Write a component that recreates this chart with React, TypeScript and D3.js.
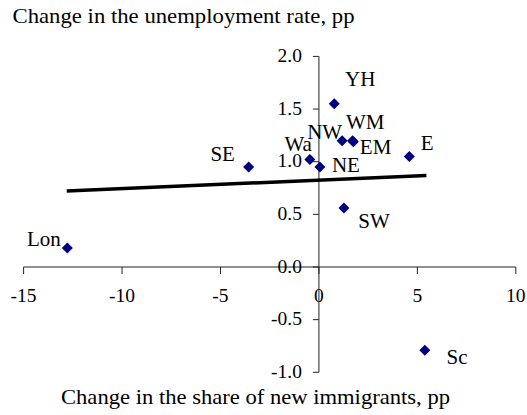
import React, { useRef, useEffect } from 'react';
import * as d3 from 'd3';

// regions and their changes (pp)
const regions = ['YH', 'NW', 'WM', 'EM', 'Wa', 'NE', 'SW', 'Sc', 'E', 'SE', 'Lon'];
const immigrantShareChange = [0.78, 1.18, 1.71, 1.75, -0.46, 0.05, 1.27, 5.38, 4.59, -3.57, -12.78];
const unemploymentChange = [1.55, 1.2, 1.2, 1.19, 1.02, 0.95, 0.56, -0.79, 1.05, 0.95, 0.18];

// fitted trend line ends
const trendX = [-12.81, 5.46];
const trendY = [0.722, 0.869];

const xTicks = [-15, -10, -5, 0, 5, 10];
const yTicks = [-1.0, -0.5, 0.0, 0.5, 1.0, 1.5, 2.0];

// label placement relative to the marker (px)
const labelOffset: Record<string, [number, number, string]> = {
  YH: [10.7, -17.3, 'start'],
  NW: [0, -2, 'end'],
  WM: [-6.7, -12, 'start'],
  EM: [6.5, 12, 'start'],
  Wa: [2, -8.6, 'end'],
  NE: [12, 5, 'start'],
  SW: [14.3, 19.6, 'start'],
  Sc: [21.7, 13.6, 'start'],
  E: [11.4, -6, 'start'],
  SE: [-13.7, -6, 'end'],
  Lon: [-6.6, -2, 'end'],
};

const W = 527;
const H = 415;

const App = () => {
  const ref = useRef<SVGSVGElement>(null);

  useEffect(() => {
    if (!ref.current) return;
    const svg = d3.select(ref.current);
    svg.selectAll('*').remove();
    const font = '"Liberation Serif", "Times New Roman", serif';

    const x = d3.scaleLinear().domain([-15, 10]).range([23.6, 515.8]);
    const y = d3.scaleLinear().domain([-1, 2]).range([372.3, 56.4]);

    // title
    svg.append('text')
      .attr('x', 12.5).attr('y', 23)
      .attr('font-family', font).attr('font-size', 21.5)
      .attr('textLength', 342).attr('lengthAdjust', 'spacingAndGlyphs')
      .text('Change in the unemployment rate, pp');

    // x axis through y = 0
    const xAxis = svg.append('g').attr('transform', `translate(0,${y(0)})`);
    xAxis.append('line')
      .attr('x1', x(-15)).attr('x2', x(10))
      .attr('stroke', '#222').attr('stroke-width', 1);
    xAxis.selectAll('.xt').data(xTicks).enter().append('line')
      .attr('x1', d => x(d)).attr('x2', d => x(d))
      .attr('y1', 0).attr('y2', 7)
      .attr('stroke', '#222');
    xAxis.selectAll('.xl').data(xTicks).enter().append('text')
      .attr('x', d => x(d)).attr('y', 35)
      .attr('text-anchor', 'middle')
      .attr('font-family', font).attr('font-size', 19.5)
      .text(d => `${d}`);

    // y axis through x = 0
    const yAxis = svg.append('g').attr('transform', `translate(${x(0)},0)`);
    yAxis.append('line')
      .attr('y1', y(2)).attr('y2', y(-1))
      .attr('stroke', '#222').attr('stroke-width', 1);
    yAxis.selectAll('.yt').data(yTicks).enter().append('line')
      .attr('x1', -6).attr('x2', 0)
      .attr('y1', d => y(d)).attr('y2', d => y(d))
      .attr('stroke', '#222');
    yAxis.selectAll('.yl').data(yTicks).enter().append('text')
      .attr('x', -17).attr('y', d => y(d) + 5.5)
      .attr('text-anchor', 'end')
      .attr('font-family', font).attr('font-size', 19.5)
      .text(d => d.toFixed(1));

    // trend
    const line = d3.line<number>()
      .x(d => x(trendX[d]))
      .y(d => y(trendY[d]));
    svg.append('path')
      .attr('d', line([0, 1]))
      .attr('fill', 'none')
      .attr('stroke', '#000')
      .attr('stroke-width', 3.5);

    // points
    const pts = regions.map((r, i) => ({ r, vx: immigrantShareChange[i], vy: unemploymentChange[i] }));
    svg.selectAll('.pt').data(pts).enter().append('path')
      .attr('d', 'M0,-5.5L5.5,0L0,5.5L-5.5,0Z')
      .attr('transform', d => `translate(${x(d.vx)},${y(d.vy)})`)
      .attr('fill', '#000080');

    svg.selectAll('.lbl').data(pts).enter().append('text')
      .attr('x', d => x(d.vx) + labelOffset[d.r][0])
      .attr('y', d => y(d.vy) + labelOffset[d.r][1])
      .attr('text-anchor', d => labelOffset[d.r][2])
      .attr('font-family', font).attr('font-size', 21)
      .text(d => d.r);

    // x title
    svg.append('text')
      .attr('x', 61).attr('y', 404)
      .attr('font-family', font).attr('font-size', 21.5)
      .attr('textLength', 389).attr('lengthAdjust', 'spacingAndGlyphs')
      .text('Change in the share of new immigrants, pp');
  }, []);

  return (
    <div style={{ position: 'absolute', left: 0, top: 0 }}>
      <svg ref={ref} width={W} height={H} style={{ display: 'block', background: '#fff' }} />
    </div>
  );
};

export default App;
